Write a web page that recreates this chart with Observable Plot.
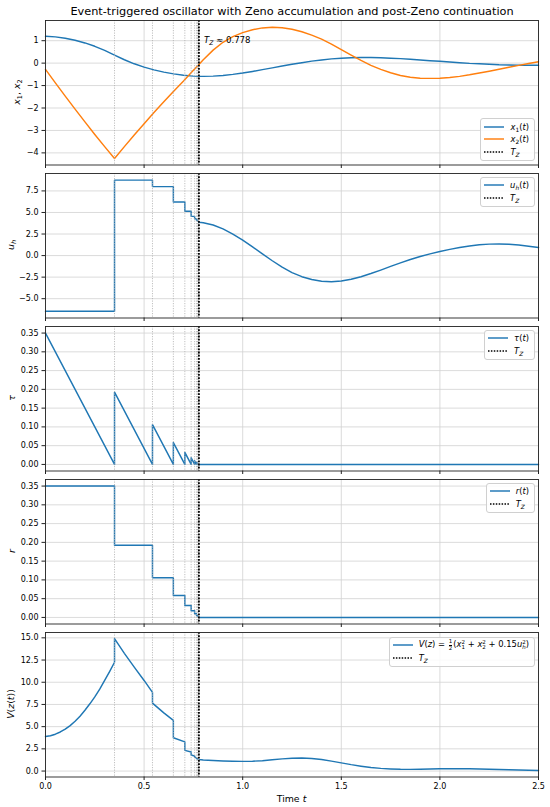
<!DOCTYPE html>
<html><head><meta charset="utf-8">
<script src="https://cdn.jsdelivr.net/npm/d3@7"></script>
<script src="https://cdn.jsdelivr.net/npm/@observablehq/plot@0.6"></script>
<style>
body{margin:0;background:#fff;font-family:"DejaVu Sans",sans-serif;color:#000;}
#wrap{position:relative;width:550px;height:807px;overflow:hidden;}
.ov{position:absolute;white-space:nowrap;line-height:1;}
.ylab{font-size:9.4px;transform:translate(-50%,-50%) rotate(-90deg);}
sub{font-size:0.7em;vertical-align:-0.3em;line-height:0;}
.leg{position:absolute;border:1px solid #d0d0d0;border-radius:3px;background:rgba(255,255,255,0.85);padding:1px 5px 2px 3px;font-size:8.4px;}
.row{display:flex;align-items:center;height:12.7px;white-space:nowrap;}
.row svg{margin-right:6px;flex:none;}
.ss{display:inline-block;font-size:0.66em;line-height:0.95em;vertical-align:-0.4em;}
.fr{display:inline-block;font-size:0.66em;line-height:1em;vertical-align:-0.55em;text-align:center;margin:0 1px;}
.fr span{display:block;}
.fr span+span{border-top:0.6px solid #000;}
</style></head>
<body><div id="wrap"></div>
<script>
// ---------- data ----------
const TZ = 0.778;
const tEnd = 2.5;
const xTicks = [0, 0.5, 1, 1.5, 2, 2.5];
const yTicks1 = [-4, -3, -2, -1, 0, 1];
const yTicks2 = [-5, -2.5, 0, 2.5, 5, 7.5];
const yTicks34 = [0, 0.05, 0.1, 0.15, 0.2, 0.25, 0.3, 0.35];
const yTicks5 = [0, 2.5, 5, 7.5, 10, 12.5, 15];

// event (sampling) times
const eventT = [0.35, 0.5425, 0.6484, 0.7066, 0.7386, 0.7562, 0.7659, 0.7712, 0.7741, 0.7757, 0.7766, 0.7771];
// inter-event interval r held on each interval
const rLevels = [0.35, 0.1925, 0.1059, 0.0582, 0.032, 0.0176, 0.0097, 0.0053, 0.0029, 0.0016, 0.0009, 0.0005, 0.0003];
// held control u_h on each interval
const uLevels = [-6.45, 8.75, 8.0, 6.22, 5.15, 4.55, 4.28, 4.1, 4.0, 3.95, 3.92, 3.9, 3.88];

// state samples
const tGrid = [0, 0.05, 0.1, 0.15, 0.2, 0.25, 0.3, 0.35, 0.4, 0.45, 0.5, 0.55, 0.6, 0.65, 0.7, 0.75, 0.778,
  0.8, 0.85, 0.9, 0.95, 1.0, 1.05, 1.1, 1.15, 1.2, 1.25, 1.3, 1.35, 1.4, 1.45, 1.5, 1.55, 1.6, 1.65, 1.7, 1.75,
  1.8, 1.85, 1.9, 1.95, 2.0, 2.05, 2.1, 2.15, 2.2, 2.25, 2.3, 2.35, 2.4, 2.45, 2.5];
const x1 = [1.2, 1.17, 1.11, 1.02, 0.9, 0.75, 0.57, 0.36, 0.15, -0.03, -0.18, -0.3, -0.4, -0.48, -0.54, -0.58, -0.59,
  -0.59, -0.58, -0.55, -0.5, -0.44, -0.37, -0.29, -0.21, -0.13, -0.05, 0.02, 0.09, 0.14, 0.19, 0.22, 0.24, 0.25, 0.25, 0.24, 0.22,
  0.2, 0.17, 0.14, 0.11, 0.08, 0.05, 0.02, -0.01, -0.03, -0.05, -0.07, -0.08, -0.09, -0.09, -0.09];
const x2 = [-0.28, -0.88, -1.47, -2.05, -2.62, -3.18, -3.72, -4.25, -3.72, -3.2, -2.7, -2.2, -1.72, -1.25, -0.8, -0.32, -0.06,
  0.15, 0.58, 0.93, 1.18, 1.36, 1.49, 1.57, 1.6, 1.58, 1.51, 1.4, 1.25, 1.07, 0.85, 0.6, 0.36, 0.12, -0.1, -0.28, -0.43,
  -0.55, -0.63, -0.67, -0.68, -0.67, -0.64, -0.59, -0.52, -0.44, -0.36, -0.27, -0.18, -0.1, -0.02, 0.06];

// post-Zeno samples (t >= TZ)
const uPostV = [3.86, 3.8, 3.55, 3.1, 2.5, 1.8, 1.0, 0.2, -0.6, -1.35, -1.98, -2.45, -2.78, -2.97, -3.03, -2.95, -2.75, -2.45,
  -2.08, -1.68, -1.26, -0.85, -0.46, -0.1, 0.2, 0.47, 0.72, 0.94, 1.12, 1.25, 1.33, 1.35, 1.31, 1.22, 1.09, 0.93];
const vPostV = [1.3, 1.25, 1.18, 1.13, 1.1, 1.09, 1.11, 1.17, 1.27, 1.37, 1.44, 1.46, 1.42, 1.3, 1.12, 0.92, 0.72, 0.55,
  0.4, 0.3, 0.24, 0.2, 0.19, 0.2, 0.22, 0.25, 0.26, 0.26, 0.25, 0.23, 0.2, 0.17, 0.14, 0.11, 0.09, 0.07];
// V before TZ (repeated times are jumps at events)
const vPreT = [0, 0.025, 0.05, 0.075, 0.1, 0.125, 0.15, 0.175, 0.2, 0.225, 0.25, 0.275, 0.3, 0.325, 0.35,
  0.35, 0.4, 0.45, 0.5, 0.5425, 0.5425, 0.6, 0.6484, 0.6484,
  0.7066, 0.7066, 0.7386, 0.7386, 0.7562, 0.7562, 0.7659, 0.7659, 0.7712, 0.7712, 0.7741];
const vPreV = [3.9, 3.97, 4.15, 4.4, 4.72, 5.12, 5.6, 6.18, 6.85, 7.57, 8.35, 9.22, 10.2, 11.2, 12.25,
  14.9, 13.25, 11.7, 10.2, 8.85, 7.65, 6.55, 5.7, 3.75,
  3.28, 2.33, 2.15, 1.8, 1.7, 1.55, 1.5, 1.42, 1.4, 1.35, 1.33];

// ---------- build tables ----------
const BLUE = "#1f77b4", ORANGE = "#ff7f0e";
const postT = tGrid.filter(t => t >= TZ);
const seg = [0, ...eventT, TZ];
const xPts = tGrid.map((t, i) => ({t, x1: x1[i], x2: x2[i]}));
const uPts = [];
uLevels.forEach((u, k) => { uPts.push({t: seg[k], v: u}, {t: seg[k + 1], v: u}); });
postT.forEach((t, i) => uPts.push({t, v: uPostV[i]}));
const tauPts = [];
rLevels.forEach((r, k) => { tauPts.push({t: seg[k], v: r}, {t: seg[k + 1], v: 0}); });
tauPts.push({t: tEnd, v: 0});
const rPts = [];
rLevels.forEach((r, k) => { rPts.push({t: seg[k], v: r}, {t: seg[k + 1], v: r}); });
rPts.push({t: TZ, v: 0}, {t: tEnd, v: 0});
const vPts = vPreT.map((t, i) => ({t, v: vPreV[i]}));
postT.forEach((t, i) => vPts.push({t, v: vPostV[i]}));

// ---------- drawing ----------
const wrap = document.getElementById("wrap");
const W = 550, ML = 45, MR = 12, FH = 144.5, MT = 8, MB = 8;
const fmt = n => d => (d < 0 ? "\u2212" : "") + Math.abs(d).toFixed(n);

function makePanel({top, yDomain, yTicks, digits, marks, bottom}) {
  const mb = bottom ? 32 : MB;
  const p = Plot.plot({
    width: W, height: FH + MT + mb,
    marginLeft: ML, marginRight: MR, marginTop: MT, marginBottom: mb,
    style: {background: "transparent", fontFamily: "DejaVu Sans, sans-serif", fontSize: "8px", overflow: "visible"},
    x: {domain: [0, tEnd]},
    y: {domain: yDomain},
    marks: [
      Plot.gridX(xTicks, {stroke: "#d2d2d2", strokeOpacity: 1, strokeWidth: 0.8}),
      Plot.gridY(yTicks, {stroke: "#d2d2d2", strokeOpacity: 1, strokeWidth: 0.8}),
      ...marks,
      Plot.ruleX(eventT, {stroke: "#b0b0b0", strokeWidth: 0.8, strokeDasharray: "1.2,1.3"}),
      Plot.ruleX([TZ], {stroke: "#000", strokeWidth: 1.8, strokeDasharray: "1.8,1.4"}),
      Plot.frame({stroke: "#222", strokeWidth: 0.9}),
      Plot.axisX(xTicks, {tickSize: 3.5, tickPadding: 3, label: null, stroke: "#222",
        tickFormat: bottom ? (d => d.toFixed(1)) : (() => "")}),
      Plot.axisY(yTicks, {tickSize: 3.5, tickPadding: 3.5, label: null, stroke: "#222", tickFormat: fmt(digits)})
    ]
  });
  p.style.position = "absolute";
  p.style.left = "0px";
  p.style.top = (top - MT) + "px";
  wrap.appendChild(p);
  return p;
}

const lineOpt = (y, c) => ({x: "t", y, stroke: c, strokeWidth: 1.45, curve: "linear"});

const p1 = makePanel({top: 20, yDomain: [-4.54, 1.9], yTicks: yTicks1, digits: 0,
  marks: [Plot.line(xPts, lineOpt("x1", BLUE)), Plot.line(xPts, lineOpt("x2", ORANGE))]});
makePanel({top: 173, yDomain: [-7.24, 9.52], yTicks: yTicks2, digits: 1,
  marks: [Plot.line(uPts, lineOpt("v", BLUE))]});
makePanel({top: 326, yDomain: [-0.0175, 0.3675], yTicks: yTicks34, digits: 2,
  marks: [Plot.line(tauPts, lineOpt("v", BLUE))]});
makePanel({top: 479, yDomain: [-0.0175, 0.3675], yTicks: yTicks34, digits: 2,
  marks: [Plot.line(rPts, lineOpt("v", BLUE))]});
makePanel({top: 632.3, yDomain: [-0.67, 15.6], yTicks: yTicks5, digits: 1, bottom: true,
  marks: [Plot.line(vPts, lineOpt("v", BLUE))]});

// ---------- text overlays ----------
function ov(html, css, cls = "ov") {
  const d = document.createElement("div");
  d.className = cls;
  d.innerHTML = html;
  Object.assign(d.style, css);
  wrap.appendChild(d);
  return d;
}
ov("Event-triggered oscillator with Zeno accumulation and post-Zeno continuation",
  {left: "292px", top: "12px", transform: "translate(-50%,-50%)", fontSize: "11.3px"});
ov("Time <i>t</i>", {left: "291.5px", top: "799px", transform: "translate(-50%,-50%)", fontSize: "9.4px"});

ov("<i>x</i><sub>1</sub>, <i>x</i><sub>2</sub>", {left: "17px", top: "92px"}, "ov ylab");
ov("<i>u</i><sub><i>h</i></sub>", {left: "11px", top: "245px"}, "ov ylab");
ov("<i>τ</i>", {left: "11.5px", top: "398px"}, "ov ylab");
ov("<i>r</i>", {left: "11.5px", top: "551px"}, "ov ylab");
ov("<i>V</i>(<i>z</i>(<i>t</i>))", {left: "11px", top: "704px"}, "ov ylab");

// T_Z annotation placed through the panel's x scale
const xs = p1.scale("x");
ov("<i>T</i><sub><i>Z</i></sub> ≈ 0.778",
  {left: (xs.apply(TZ) + 5.5) + "px", top: "39.5px", transform: "translateY(-50%)", fontSize: "8.6px"});

const solid = c => `<svg width="20" height="6"><line x1="0" y1="3" x2="20" y2="3" stroke="${c}" stroke-width="1.45"/></svg>`;
const dotted = `<svg width="20" height="6"><line x1="0" y1="3" x2="20" y2="3" stroke="#000" stroke-width="1.5" stroke-dasharray="1.5,1.4"/></svg>`;
const tzLab = "<i>T</i><sub><i>Z</i></sub>";
function legend(rows, css) {
  const html = rows.map(([s, t]) => `<div class="row">${s}<span>${t}</span></div>`).join("");
  return ov(html, css, "leg");
}
legend([[solid(BLUE), "<i>x</i><sub>1</sub>(<i>t</i>)"], [solid(ORANGE), "<i>x</i><sub>2</sub>(<i>t</i>)"], [dotted, tzLab]],
  {right: "15px", top: "118.3px"});
legend([[solid(BLUE), "<i>u</i><sub><i>h</i></sub>(<i>t</i>)"], [dotted, tzLab]],
  {right: "15px", top: "176.7px"});
legend([[solid(BLUE), "<i>τ</i>(<i>t</i>)"], [dotted, tzLab]],
  {right: "15px", top: "329.7px"});
legend([[solid(BLUE), "<i>r</i>(<i>t</i>)"], [dotted, tzLab]],
  {right: "15px", top: "482.7px"});
const ss = (a, b) => `<span class="ss">${a}<br>${b}</span>`;
legend([[solid(BLUE), `<i>V</i>(<i>z</i>) = <span class="fr"><span>1</span><span>2</span></span>(<i>x</i>${ss(2, 1)} + <i>x</i>${ss(2, 2)} + 0.15<i>u</i>${ss(2, "<i>h</i>")})`],
  [dotted, tzLab]],
  {right: "15px", top: "636.7px"});
</script></body></html>
